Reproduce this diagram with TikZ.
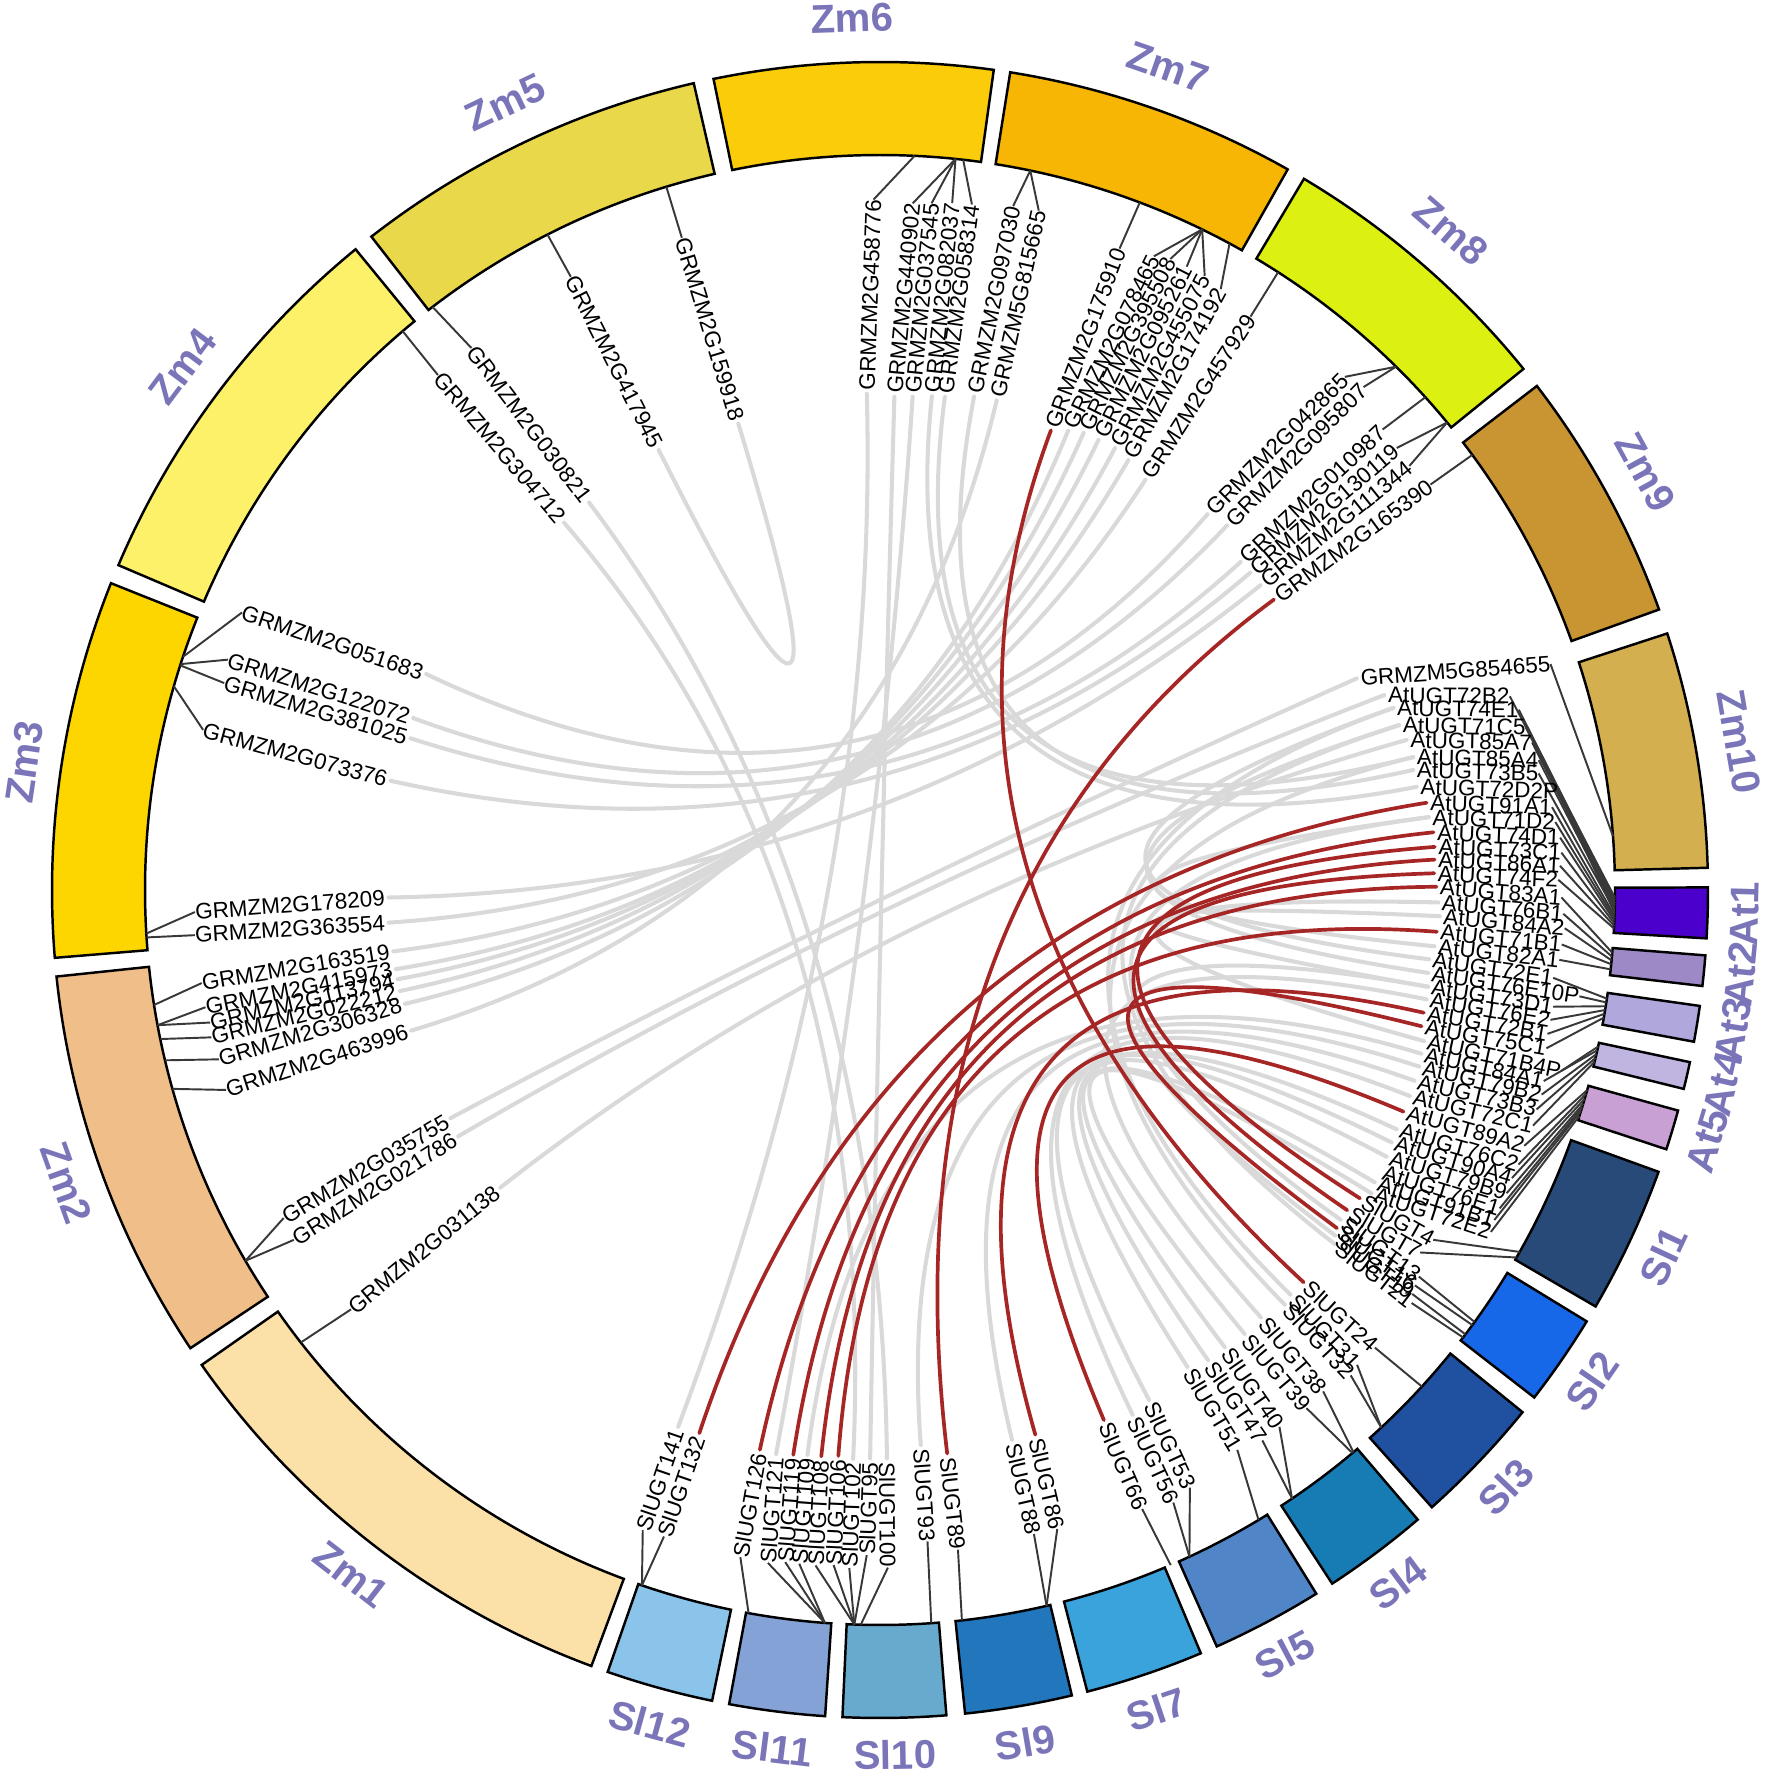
\documentclass[tikz,border=0pt]{standalone}
\usepackage{fontspec}
\setmainfont{Liberation Sans}
\usetikzlibrary{calc}
\pgfdeclarelayer{back}
\pgfdeclarelayer{bg}
\pgfsetlayers{back,bg,main}
\definecolor{zm1}{RGB}{251,224,168}
\definecolor{zm2}{RGB}{240,190,137}
\definecolor{zm3}{RGB}{253,214,0}
\definecolor{zm4}{RGB}{252,241,104}
\definecolor{zm5}{RGB}{233,216,73}
\definecolor{zm6}{RGB}{250,204,9}
\definecolor{zm7}{RGB}{247,182,4}
\definecolor{zm8}{RGB}{220,240,18}
\definecolor{zm9}{RGB}{201,149,51}
\definecolor{zm10}{RGB}{211,175,80}
\definecolor{at1}{RGB}{76,0,204}
\definecolor{at2}{RGB}{157,137,198}
\definecolor{at3}{RGB}{176,168,220}
\definecolor{at4}{RGB}{192,180,224}
\definecolor{at5}{RGB}{200,160,212}
\definecolor{sl1}{RGB}{40,74,120}
\definecolor{sl2}{RGB}{22,104,232}
\definecolor{sl3}{RGB}{32,80,160}
\definecolor{sl4}{RGB}{24,124,180}
\definecolor{sl5}{RGB}{80,134,200}
\definecolor{sl7}{RGB}{58,163,220}
\definecolor{sl9}{RGB}{34,118,188}
\definecolor{sl10}{RGB}{104,170,206}
\definecolor{sl11}{RGB}{132,162,214}
\definecolor{sl12}{RGB}{138,196,234}
\definecolor{labc}{RGB}{122,117,185}
\definecolor{linkgrey}{RGB}{217,217,217}
\definecolor{linkred}{RGB}{166,38,38}
\tikzset{
  glab/.style={inner sep=0pt, font=\fontsize{12.8pt}{14pt}\selectfont, text=black},
  conn/.style={draw=black!78, line width=1.1pt},
  chrbox/.style={draw=black, line width=1.4pt},
  chrlab/.style={text=labc, font=\bfseries\fontsize{22.8pt}{24pt}\selectfont, inner sep=0pt},
  glink/.style={draw=linkgrey, line width=2.3pt, line cap=round},
  rlink/.style={draw=linkred, line width=2.1pt, line cap=round},
}
% chromosome box: name, start angle, end angle, colour
\newcommand\chrom[4]{\draw[chrbox, fill=#4] (#2:147mm) arc[start angle=#2, end angle=#3, radius=147mm] -- (#3:165.6mm) arc[start angle=#3, end angle=#2, radius=165.6mm] -- cycle;}
\newcommand\chT[2]{\node[chrlab, rotate=#2-90] (L#1) at (#2:174.4mm) {#1};}
\newcommand\chB[2]{\node[chrlab, rotate=#2+90] (L#1) at (#2:173.0mm) {#1};}
% gene label reading outward: name, angle, radius of inner end, rotation, gene angle
\newcommand\gR[5]{%
  \node[glab, anchor=west, rotate=#4] (#1) at (#2:#3) {#1};
  \coordinate (p#1) at (#5:735);
  \draw[conn] (p#1) -- (#1.east);
  \coordinate (e#1) at ($(#1.west)!-2pt!(#1.east)$);}
% gene label reading inward
\newcommand\gL[5]{%
  \node[glab, anchor=east, rotate=#4+180] (#1) at (#2:#3) {#1};
  \coordinate (p#1) at (#5:735);
  \draw[conn] (p#1) -- (#1.west);
  \coordinate (e#1) at ($(#1.east)!-2pt!(#1.west)$);}
\newcommand\lk[3]{\draw[#1] (e#2) .. controls ($(O)!0.3333!(e#2)$) and ($(O)!0.3333!(e#3)$) .. (e#3);}
\begin{document}
\begin{tikzpicture}[x=0.2mm, y=0.2mm]
\useasboundingbox (-880,-887) rectangle (892,890);
\begin{pgfonlayer}{back}
\fill[white] (-880,-887) rectangle (892,890);
\end{pgfonlayer}
\coordinate (O) at (0,0);
% ideograms
\chrom{Zm1}{215.0}{249.6}{zm1}
\chrom{Zm2}{186.0}{213.6}{zm2}
\chrom{Zm3}{158.25}{184.7}{zm3}
\chrom{Zm4}{129.3}{156.9}{zm4}
\chrom{Zm5}{103.0}{127.9}{zm5}
\chrom{Zm6}{82.1}{101.6}{zm6}
\chrom{Zm7}{60.5}{80.95}{zm7}
\chrom{Zm8}{39.0}{59.2}{zm8}
\chrom{Zm9}{19.8}{37.5}{zm9}
\chrom{Zm10}{1.54}{18.05}{zm10}
\chrom{At1}{-3.35}{0.18}{at1}
\chrom{At2}{-6.66}{-4.53}{at2}
\chrom{At3}{-10.56}{-8.05}{at3}
\chrom{At4}{-13.9}{-12.0}{at4}
\chrom{At5}{-18.25}{-15.45}{at5}
\chrom{Sl1}{-30.2}{-19.9}{sl1}
\chrom{Sl2}{-37.8}{-31.4}{sl2}
\chrom{Sl3}{-48.2}{-39.1}{sl3}
\chrom{Sl4}{-56.9}{-49.5}{sl4}
\chrom{Sl5}{-66.0}{-58.2}{sl5}
\chrom{Sl7}{-75.5}{-67.2}{sl7}
\chrom{Sl9}{-84.1}{-76.6}{sl9}
\chrom{Sl10}{-92.6}{-85.4}{sl10}
\chrom{Sl11}{-100.5}{-93.8}{sl11}
\chrom{Sl12}{-109.2}{-101.7}{sl12}
% ideogram names
\chB{Zm1}{232.3}
\chB{Zm2}{199.8}
\node[chrlab, rotate=81.5] (LZm3) at (171.5:173.0mm) {Zm3};
\chT{Zm4}{143.1}
\chT{Zm5}{115.45}
\chT{Zm6}{91.85}
\chT{Zm7}{70.7}
\chT{Zm8}{49.1}
\chT{Zm9}{28.65}
\chT{Zm10}{9.8}
\chB{At1}{-1.6}
\chB{At2}{-5.6}
\chB{At3}{-9.3}
\chB{At4}{-12.95}
\chB{At5}{-16.85}
\chB{Sl1}{-25.05}
\chB{Sl2}{-34.6}
\chB{Sl3}{-43.65}
\chB{Sl4}{-53.2}
\chB{Sl5}{-62.1}
\chB{Sl7}{-71.35}
\chB{Sl9}{-80.35}
\chB{Sl10}{-89.0}
\chB{Sl11}{-97.15}
\chB{Sl12}{-105.45}
% gene labels, top
\gR{GRMZM2G458776}{91.5}{500}{88.0}{87.3}
\gR{GRMZM2G440902}{88.3}{497}{84.6}{84.1}
\gR{GRMZM2G037545}{86.2}{498}{84.4}{84.1}
\gR{GRMZM2G082037}{84.0}{500}{84.0}{84.1}
\gR{GRMZM2G058314}{82.5}{501}{82.0}{83.5}
\gR{GRMZM2G097030}{79.2}{506}{78.4}{78.2}
\gR{GRMZM5G815665}{76.6}{507}{77.5}{78.2}
\gR{GRMZM2G175910}{69.6}{494}{69.3}{69.3}
\gR{GRMZM2G078465}{67.7}{500}{63.8}{64.0}
\gR{GRMZM2G395508}{65.97}{504}{63.5}{64.0}
\gR{GRMZM2G095261}{64.1}{504}{63.0}{64.0}
\gR{GRMZM2G455075}{62.0}{504}{62.5}{64.0}
\gR{GRMZM2G174192}{60.0}{500}{61.6}{61.6}
\gR{GRMZM2G457929}{57.1}{492}{57.2}{57.2}
\gR{GRMZM2G042865}{48.9}{502}{45.0}{45.4}
\gR{GRMZM2G095807}{46.4}{507}{45.4}{45.4}
\gR{GRMZM2G010987}{42.3}{491}{43.0}{42.1}
\gR{GRMZM2G130119}{40.6}{491}{40.4}{39.5}
\gR{GRMZM2G111344}{38.7}{491}{38.7}{39.5}
\gR{GRMZM2G165390}{36.4}{493}{36.3}{36.3}
% right stack
\gR{GRMZM5G854655}{23.8}{525}{4.2}{4.2}
\gR{AtUGT72B2}{21.0}{544}{-0.6}{-0.6}
\gR{AtUGT74E1}{19.4}{548}{-0.8}{-0.8}
\gR{AtUGT71C5}{17.5}{548}{-1.0}{-1.0}
\gR{AtUGT85A7}{15.8}{551}{-1.2}{-1.2}
\gR{AtUGT85A4}{13.9}{553}{-1.4}{-1.4}
\gR{AtUGT73B5}{12.6}{550}{-1.6}{-1.6}
\gR{AtUGT72D2P}{10.8}{550}{-1.8}{-1.8}
\gR{AtUGT91A1}{9.0}{557}{-2.0}{-2.0}
\gR{AtUGT71D2}{7.5}{557}{-2.2}{-2.2}
\gR{AtUGT74D1}{5.9}{560}{-2.4}{-2.4}
\gR{AtUGT73C1}{4.4}{560}{-2.6}{-2.6}
\gR{AtUGT86A1}{3.1}{559}{-2.8}{-2.8}
\gR{AtUGT74F2}{1.7}{558}{-3.0}{-3.0}
\gR{AtUGT83A1}{0.3}{560}{-4.9}{-4.9}
\gR{AtUGT76B1}{-1.3}{562}{-5.2}{-5.2}
\gR{AtUGT84A2}{-2.7}{564}{-5.5}{-5.5}
\gR{AtUGT71B1}{-4.3}{562}{-5.8}{-5.8}
\gR{AtUGT82A1}{-5.8}{561}{-6.2}{-6.2}
\gR{AtUGT72E1}{-7.2}{557}{-8.5}{-8.5}
\gR{AtUGT76E10P}{-8.6}{558}{-8.8}{-8.8}
\gR{AtUGT73D1}{-10.0}{560}{-9.1}{-9.1}
\gR{AtUGT76E2}{-11.3}{561}{-9.4}{-9.4}
\gR{AtUGT72B1}{-12.7}{561}{-9.7}{-9.7}
\gR{AtUGT75C1}{-14.1}{562}{-10.0}{-10.0}
\gR{AtUGT71B4P}{-15.5}{568}{-12.3}{-12.3}
\gR{AtUGT84A1}{-16.8}{569}{-12.6}{-12.6}
\gR{AtUGT79B2}{-18.1}{571}{-12.9}{-12.9}
\gR{AtUGT73B3}{-19.6}{571}{-13.2}{-13.2}
\gR{AtUGT72C1}{-21.2}{572}{-13.5}{-13.5}
\gR{AtUGT89A2}{-22.9}{572}{-15.8}{-15.8}
\gR{AtUGT76C2}{-24.8}{573}{-16.1}{-16.1}
\gR{AtUGT90A4}{-26.2}{574}{-16.5}{-16.5}
\gR{AtUGT79B9}{-27.7}{576}{-16.9}{-16.9}
\gR{AtUGT76E1}{-29.3}{577}{-17.2}{-17.2}
\gR{AtUGT91B1}{-30.5}{578}{-17.5}{-17.5}
\gR{AtUGT72E2}{-31.6}{581}{-17.9}{-17.9}
% tomato labels
\gR{SlUGT4}{-32.7}{574}{-29.5}{-29.5}
\gR{SlUGT7}{-34.4}{570}{-30.1}{-30.0}
\gR{SlUGT13}{-35.6}{570}{-36.0}{-36.0}
\gR{SlUGT16}{-36.5}{572}{-36.3}{-36.3}
\gR{SlUGT19}{-37.2}{575}{-37.2}{-37.2}
\gR{SlUGT21}{-37.9}{580}{-37.5}{-37.5}
\gR{SlUGT24}{-42.8}{581}{-42.5}{-42.5}
\gR{SlUGT31}{-44.6}{580}{-46.5}{-47.0}
\gR{SlUGT32}{-45.7}{583}{-47.0}{-47.0}
\gR{SlUGT38}{-48.3}{576}{-49.9}{-49.9}
\gR{SlUGT39}{-50.6}{578}{-50.2}{-50.0}
\gR{SlUGT40}{-53.0}{576}{-55.5}{-55.9}
\gR{SlUGT47}{-55.1}{577}{-55.9}{-55.9}
\gR{SlUGT51}{-57.2}{571}{-59.0}{-59.0}
\gR{SlUGT53}{-62.2}{580}{-65.0}{-65.1}
\gR{SlUGT56}{-64.3}{586}{-65.1}{-65.1}
\gR{SlUGT66}{-67.1}{579}{-66.7}{-66.7}
\gR{SlUGT86}{-74.1}{570}{-76.9}{-76.9}
\gR{SlUGT88}{-76.5}{569}{-76.9}{-76.9}
\gR{SlUGT89}{-83.2}{571}{-83.6}{-83.6}
\gR{SlUGT93}{-85.8}{560}{-86.0}{-86.0}
\gR{SlUGT100}{-89.3}{572}{-89.5}{-91.5}
\gL{SlUGT95}{-91.0}{572}{-92.0}{-92.0}
\gL{SlUGT102}{-92.7}{573}{-92.0}{-92.0}
\gL{SlUGT106}{-94.2}{571}{-92.5}{-92.0}
\gL{SlUGT108}{-95.9}{573}{-93.0}{-92.0}
\gL{SlUGT109}{-97.3}{573}{-94.3}{-94.3}
\gL{SlUGT119}{-98.7}{575}{-94.3}{-94.3}
\gL{SlUGT121}{-100.4}{577}{-94.3}{-94.3}
\gL{SlUGT126}{-102.1}{576}{-100.3}{-100.3}
\gL{SlUGT132}{-108.4}{576}{-108.9}{-108.9}
\gL{SlUGT141}{-110.6}{577}{-108.9}{-108.9}
% maize labels, left side
\gL{GRMZM2G159918}{106.9}{491}{106.9}{106.9}
\gL{GRMZM2G417945}{116.7}{496}{116.9}{116.9}
\gL{GRMZM2G030821}{126.9}{488}{127.3}{127.5}
\gL{GRMZM2G304712}{130.7}{488}{130.5}{130.5}
\gL{GRMZM2G051683}{154.6}{506}{161.5}{161.5}
\gL{GRMZM2G122072}{159.8}{501}{162.5}{162.1}
\gL{GRMZM2G381025}{162.1}{497}{163.5}{162.2}
\gL{GRMZM2G073376}{167.4}{505}{164.8}{163.9}
\gL{GRMZM2G178209}{180.9}{495}{184.3}{183.4}
\gL{GRMZM2G363554}{183.8}{496}{183.7}{183.7}
\gL{GRMZM2G163519}{187.2}{494}{189.4}{189.0}
\gL{GRMZM2G415973}{189.3}{494}{191.3}{190.6}
\gL{GRMZM2G113794}{190.5}{494}{193.0}{190.6}
\gL{GRMZM2G022212}{191.9}{494}{193.8}{191.7}
\gL{GRMZM2G306328}{193.5}{492}{196.6}{193.4}
\gL{GRMZM2G463996}{196.7}{493}{197.8}{195.7}
\gL{GRMZM2G035755}{208.0}{490}{210.9}{210.3}
\gL{GRMZM2G021786}{210.3}{492}{212.2}{210.3}
\gL{GRMZM2G031138}{218.1}{486}{219.2}{218.0}
% links
\begin{pgfonlayer}{bg}
\lk{glink}{GRMZM2G051683}{GRMZM2G042865}
\lk{glink}{GRMZM2G122072}{GRMZM2G095807}
\lk{glink}{GRMZM2G381025}{GRMZM2G010987}
\lk{glink}{GRMZM2G073376}{GRMZM2G130119}
\lk{glink}{GRMZM2G178209}{GRMZM2G111344}
\lk{glink}{GRMZM2G363554}{GRMZM2G457929}
\lk{glink}{GRMZM2G163519}{GRMZM2G174192}
\lk{glink}{GRMZM2G415973}{GRMZM2G455075}
\lk{glink}{GRMZM2G113794}{GRMZM2G095261}
\lk{glink}{GRMZM2G022212}{GRMZM2G395508}
\lk{glink}{GRMZM2G306328}{GRMZM2G078465}
\lk{glink}{GRMZM2G463996}{GRMZM5G815665}
\lk{glink}{GRMZM2G417945}{GRMZM2G159918}
\lk{glink}{GRMZM2G458776}{SlUGT141}
\lk{glink}{GRMZM2G440902}{SlUGT95}
\lk{glink}{GRMZM2G037545}{SlUGT121}
\lk{glink}{GRMZM2G082037}{AtUGT72D2P}
\lk{glink}{GRMZM2G058314}{AtUGT85A4}
\lk{glink}{GRMZM2G097030}{AtUGT73B5}
\lk{glink}{GRMZM2G304712}{SlUGT102}
\lk{glink}{GRMZM2G030821}{SlUGT100}
\lk{glink}{GRMZM2G035755}{GRMZM5G854655}
\lk{glink}{GRMZM2G021786}{AtUGT72B2}
\lk{glink}{GRMZM2G031138}{AtUGT85A7}
\lk{glink}{AtUGT74E1}{AtUGT72E1}
\lk{glink}{AtUGT71C5}{AtUGT76E10P}
\lk{glink}{AtUGT71D2}{AtUGT82A1}
\lk{glink}{AtUGT84A2}{AtUGT73D1}
\lk{glink}{AtUGT76B1}{AtUGT71B4P}
\lk{glink}{SlUGT109}{AtUGT84A1}
\lk{glink}{SlUGT93}{AtUGT79B2}
\lk{glink}{SlUGT88}{AtUGT73B3}
\lk{glink}{SlUGT56}{AtUGT72C1}
\lk{glink}{SlUGT53}{AtUGT76C2}
\lk{glink}{SlUGT51}{AtUGT90A4}
\lk{glink}{SlUGT47}{AtUGT79B9}
\lk{glink}{SlUGT40}{AtUGT91B1}
\lk{glink}{SlUGT39}{AtUGT72E2}
\lk{glink}{SlUGT38}{AtUGT76E2}
\lk{glink}{SlUGT32}{AtUGT85A4}
\lk{glink}{SlUGT31}{AtUGT74E1}
\lk{glink}{SlUGT21}{AtUGT71C5}
\lk{glink}{SlUGT19}{AtUGT73D1}
\lk{glink}{SlUGT13}{AtUGT71D2}
\lk{rlink}{SlUGT132}{AtUGT91A1}
\lk{rlink}{SlUGT126}{AtUGT74D1}
\lk{rlink}{SlUGT119}{AtUGT86A1}
\lk{rlink}{SlUGT108}{AtUGT83A1}
\lk{rlink}{SlUGT106}{AtUGT71B1}
\lk{rlink}{SlUGT89}{GRMZM2G165390}
\lk{rlink}{SlUGT86}{AtUGT72B1}
\lk{rlink}{SlUGT66}{AtUGT89A2}
\lk{rlink}{SlUGT24}{GRMZM2G175910}
\lk{rlink}{SlUGT4}{AtUGT73C1}
\lk{rlink}{SlUGT7}{AtUGT74F2}
\lk{rlink}{SlUGT16}{AtUGT75C1}
\end{pgfonlayer}
\end{tikzpicture}
\end{document}
